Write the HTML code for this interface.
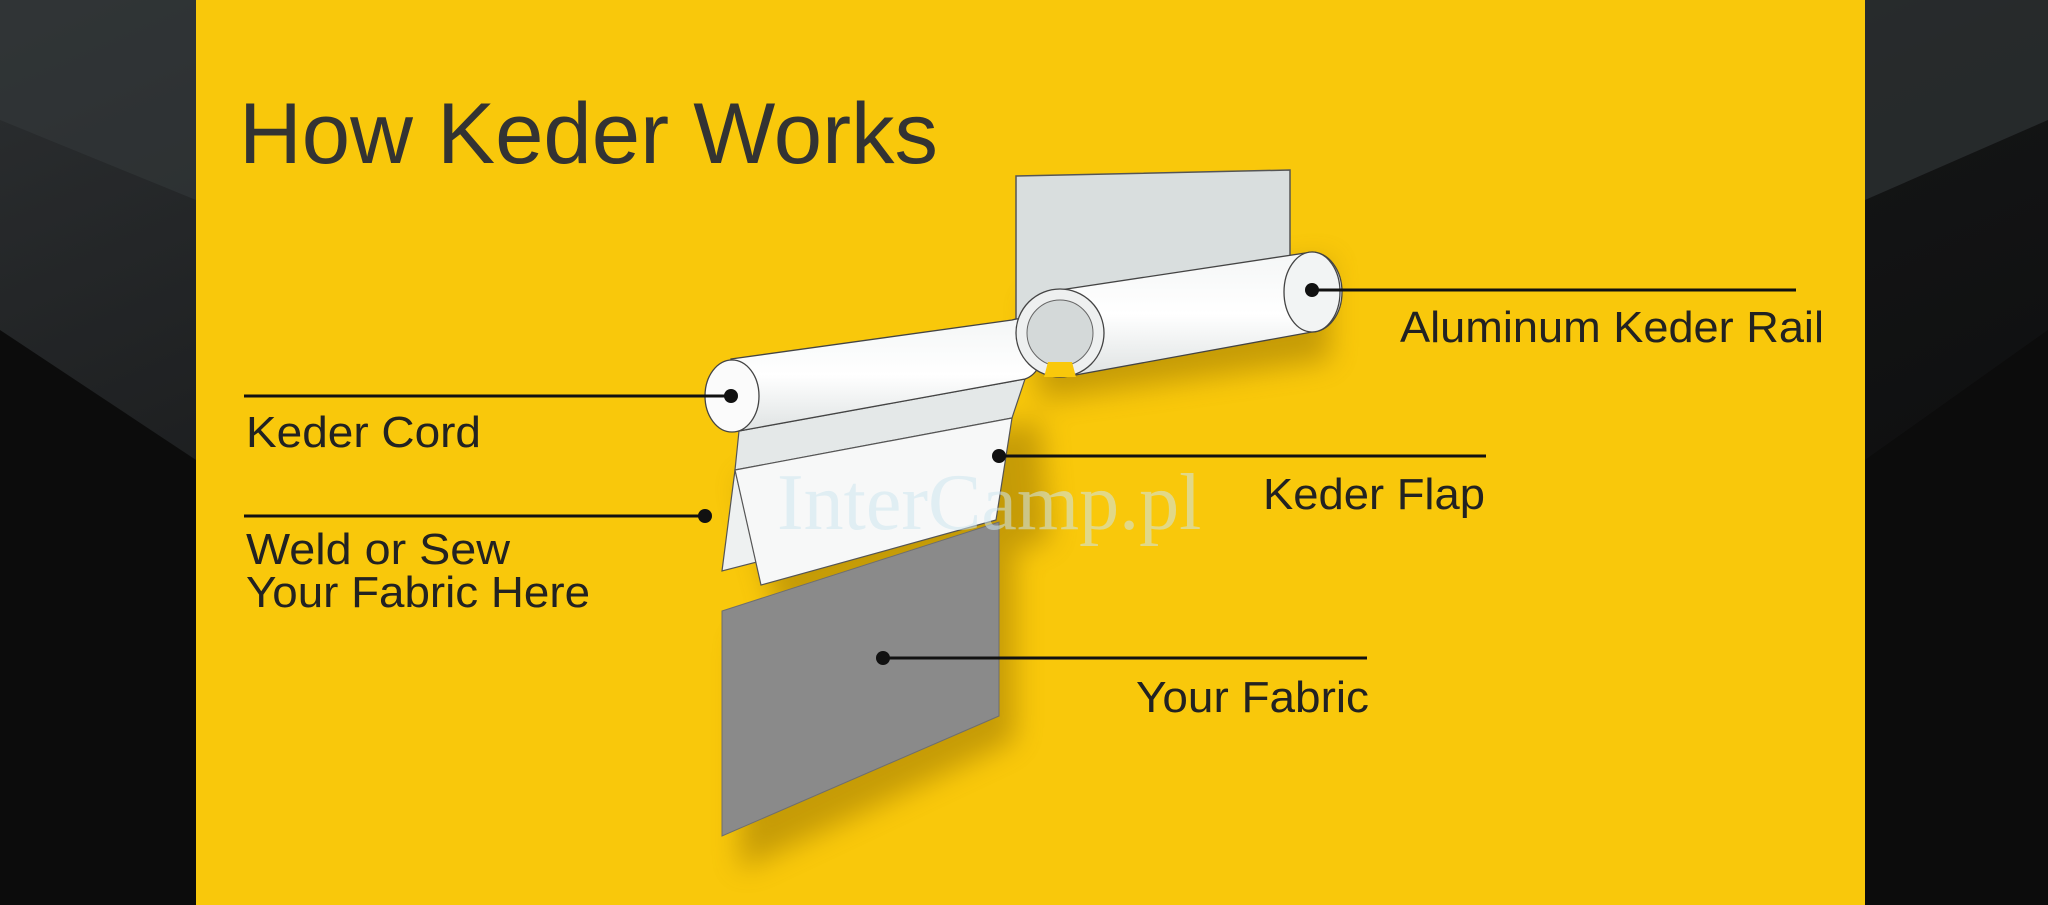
<!DOCTYPE html>
<html><head><meta charset="utf-8"><style>
html,body{margin:0;padding:0;width:2048px;height:905px;overflow:hidden;background:#111;}
svg{display:block}
</style></head><body>
<svg width="2048" height="905" viewBox="0 0 2048 905" xmlns="http://www.w3.org/2000/svg">
<defs>
<linearGradient id="bgL" x1="0" y1="0" x2="1" y2="1">
<stop offset="0" stop-color="#2c2f31"/><stop offset="0.5" stop-color="#141516"/><stop offset="1" stop-color="#0a0a0a"/>
</linearGradient>
<linearGradient id="tube" x1="0" y1="0" x2="0" y2="1">
<stop offset="0" stop-color="#f4f6f6"/><stop offset="0.5" stop-color="#ffffff"/><stop offset="1" stop-color="#dfe3e3"/>
</linearGradient>
<filter id="sh" x="-20%" y="-20%" width="140%" height="140%"><feGaussianBlur stdDeviation="14"/></filter>
</defs>
<rect width="2048" height="905" fill="url(#bgL)"/>
<path d="M0 0 L196 0 L196 200 L0 120 Z" fill="#34383a" opacity="0.6"/>
<path d="M1865 0 L2048 0 L2048 120 L1865 200 Z" fill="#34383a" opacity="0.6"/>
<path d="M1865 460 L2048 330 L2048 905 L1865 905 Z" fill="#0c0c0c"/>
<path d="M0 330 L196 460 L196 905 L0 905 Z" fill="#0c0c0c"/>
<rect x="196" y="0" width="1669" height="905" fill="#f9c80b"/>
<!-- shadows -->
<g opacity="0.4" filter="url(#sh)">
<path d="M740 480 L1040 420 L1050 540 L780 620 Z" fill="#7a5a00"/>
<path d="M740 640 L1015 550 L1015 740 L740 870 Z" fill="#7a5a00"/>
<path d="M1030 300 L1330 260 L1330 360 L1040 400 Z" fill="#7a5a00"/>
</g>
<!-- title -->
<text x="239" y="163" font-family="Liberation Sans, sans-serif" font-size="86" fill="#333" textLength="699" lengthAdjust="spacingAndGlyphs">How Keder Works</text>
<!-- rail plate -->
<path d="M1016 176 L1290 170 L1290 320 L1016 360 Z" fill="#d9dede" stroke="#555" stroke-width="1.5"/>
<!-- fabric -->
<path d="M722 611 L999 522 L999 716 L722 836 Z" fill="#8a8a8a"/>
<path d="M722 611 L999 522 L999 716 L722 836 Z" fill="none" stroke="#6e6e6e" stroke-width="1"/>
<!-- back flap -->
<path d="M735 470 L722 571 L757 562 Z" fill="#eef1f1" stroke="#555" stroke-width="1.2"/>
<!-- upper flap band -->
<path d="M739 431 L1025 379 L1012 418 L735 470 Z" fill="#e4e8e8" stroke="#555" stroke-width="1.2"/>
<!-- front flap -->
<path d="M735 470 L1012 418 L996 520 L761 585 Z" fill="#f7f8f8" stroke="#555" stroke-width="1.2"/>
<!-- cord -->
<path d="M731 359 L1012 320 A24 30 0 0 1 1025 379 L739 431 Z" fill="url(#tube)" stroke="#444" stroke-width="1.3"/>
<ellipse cx="732" cy="396" rx="27" ry="36" fill="#fbfbfb" stroke="#444" stroke-width="1.3"/>
<!-- rail tube -->
<path d="M1060 290 L1312 252 A30 40 0 0 1 1312 332 L1070 376 Z" fill="url(#tube)" stroke="#444" stroke-width="1.3"/>
<ellipse cx="1312" cy="292" rx="28" ry="40" fill="#f2f4f4" stroke="#444" stroke-width="1.3"/>
<circle cx="1060" cy="333" r="44" fill="#eef0f0" stroke="#444" stroke-width="1.3"/>
<circle cx="1060" cy="333" r="33" fill="#d4d9d9" stroke="#666" stroke-width="1"/>
<path d="M1048 362 L1072 362 L1076 377 L1044 377 Z" fill="#f9c80b"/>
<!-- watermark -->
<text x="777" y="529" font-family="Liberation Serif, serif" font-size="80" fill="#cfe6ef" opacity="0.55">InterCamp.pl</text>
<!-- connectors -->
<g stroke="#111" stroke-width="3">
<line x1="1312" y1="290" x2="1796" y2="290"/>
<line x1="244" y1="396" x2="731" y2="396"/>
<line x1="244" y1="516" x2="705" y2="516"/>
<line x1="999" y1="456" x2="1486" y2="456"/>
<line x1="883" y1="658" x2="1367" y2="658"/>
</g>
<g fill="#111">
<circle cx="1312" cy="290" r="7"/><circle cx="731" cy="396" r="7"/>
<circle cx="705" cy="516" r="7"/><circle cx="999" cy="456" r="7"/><circle cx="883" cy="658" r="7"/>
</g>
<g font-family="Liberation Sans, sans-serif" font-size="44" fill="#222">
<text x="1400" y="342" textLength="424" lengthAdjust="spacingAndGlyphs">Aluminum Keder Rail</text>
<text x="246" y="447" textLength="235" lengthAdjust="spacingAndGlyphs">Keder Cord</text>
<text x="1263" y="509" textLength="222" lengthAdjust="spacingAndGlyphs">Keder Flap</text>
<text x="246" y="564" textLength="264" lengthAdjust="spacingAndGlyphs">Weld or Sew</text>
<text x="246" y="607" textLength="344" lengthAdjust="spacingAndGlyphs">Your Fabric Here</text>
<text x="1136" y="712" textLength="233" lengthAdjust="spacingAndGlyphs">Your Fabric</text>
</g>
</svg>
</body></html>
